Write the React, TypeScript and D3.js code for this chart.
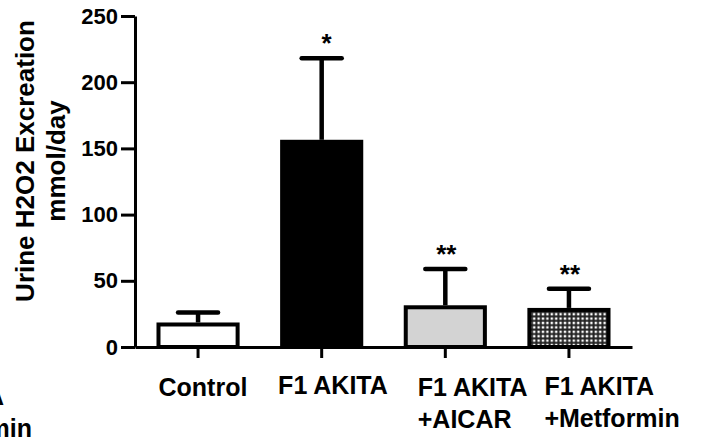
import * as d3 from "d3";
import { useEffect, useRef } from "react";

const categories = ["Control", "F1 AKITA", "F1 AKITA +AICAR", "F1 AKITA +Metformin"];
const labelLines = [["Control"], ["F1 AKITA"], ["F1 AKITA", "+AICAR"], ["F1 AKITA", "+Metformin"]];
const means = [17, 155, 30, 28];
const sems = [9, 63, 29, 16];
const signif = ["", "*", "**", "**"];
const yTicks = [0, 50, 100, 150, 200, 250];

const FONT = "'Liberation Sans', Arial, Helvetica, sans-serif";

export default function App() {
  const ref = useRef<SVGSVGElement>(null);

  useEffect(() => {
    if (!ref.current) return;
    const svg = d3.select(ref.current);
    svg.selectAll("*").remove();

    const width = 709,
      height = 441;
    const margin = { top: 16, right: 77, bottom: 94, left: 135 };

    svg.attr("width", width).attr("height", height);

    const x = d3
      .scaleBand<string>()
      .domain(categories)
      .range([margin.left, width - margin.right])
      .paddingInner(0.36)
      .paddingOuter(0.19);

    const y = d3
      .scaleLinear()
      .domain([0, 250])
      .range([height - margin.bottom, margin.top]);

    const fills = ["#ffffff", "#000000", "#d3d3d3", "url(#checker)"];

    // checker pattern for metformin bar
    const defs = svg.append("defs");
    const pat = defs
      .append("pattern")
      .attr("id", "checker")
      .attr("patternUnits", "userSpaceOnUse")
      .attr("width", 4.4)
      .attr("height", 4.4);
    pat.append("rect").attr("width", 4.4).attr("height", 4.4).attr("fill", "#222");
    pat.append("rect").attr("x", 0.6).attr("y", 0.6).attr("width", 2.4).attr("height", 2.4).attr("fill", "#fff");

    const g = svg.append("g");

    // bars
    g.selectAll("rect.bar")
      .data(categories)
      .enter()
      .append("rect")
      .attr("class", "bar")
      .attr("x", (d) => x(d)!)
      .attr("y", (d, i) => y(means[i]))
      .attr("width", x.bandwidth())
      .attr("height", (d, i) => y(0) - y(means[i]))
      .attr("fill", (d, i) => fills[i])
      .attr("stroke", "#000")
      .attr("stroke-width", 4);

    // error bars (upper only)
    const cx = (d: string) => x(d)! + x.bandwidth() / 2;
    g.selectAll("line.stem")
      .data(categories)
      .enter()
      .append("line")
      .attr("x1", cx)
      .attr("x2", cx)
      .attr("y1", (d, i) => y(means[i]) - 2)
      .attr("y2", (d, i) => y(means[i] + sems[i]))
      .attr("stroke", "#000")
      .attr("stroke-width", 4.5);

    g.selectAll("line.cap")
      .data(categories)
      .enter()
      .append("line")
      .attr("x1", (d) => cx(d) - 20)
      .attr("x2", (d) => cx(d) + 20)
      .attr("y1", (d, i) => y(means[i] + sems[i]))
      .attr("y2", (d, i) => y(means[i] + sems[i]))
      .attr("stroke", "#000")
      .attr("stroke-width", 4.5)
      .attr("stroke-linecap", "round");

    // significance stars
    g.selectAll("text.sig")
      .data(categories)
      .enter()
      .append("text")
      .attr("x", (d, i) => cx(d) + (i === 1 ? 5 : 1))
      .attr("y", (d, i) => y(means[i] + sems[i]) - 6)
      .attr("text-anchor", "middle")
      .attr("font-family", FONT)
      .attr("font-weight", "bold")
      .attr("font-size", "26px")
      .text((d, i) => signif[i]);

    // Y axis
    const yAxis = svg
      .append("g")
      .attr("transform", `translate(${margin.left}, 0)`)
      .call(d3.axisLeft(y).tickValues(yTicks).tickSize(14).tickPadding(3).tickSizeOuter(0));
    yAxis.select(".domain").attr("stroke-width", 3);
    yAxis.selectAll(".tick line").attr("stroke-width", 3);
    yAxis
      .selectAll("text")
      .attr("fill", "#000")
      .attr("font-family", FONT)
      .attr("font-weight", "bold")
      .attr("font-size", "22px");

    // X axis
    const xAxis = svg
      .append("g")
      .attr("transform", `translate(0, ${y(0)})`)
      .call(d3.axisBottom(x).tickSize(11).tickSizeOuter(0).tickFormat(() => ""));
    xAxis.select(".domain").attr("stroke-width", 3);
    xAxis.selectAll(".tick line").attr("stroke-width", 3);

    // category labels (left aligned, multi-line)
    const labelDx = [0, -4, 12, 15];
    const labelY = [396, 394, 396, 395];
    labelLines.forEach((lines, i) => {
      const t = svg
        .append("text")
        .attr("font-family", FONT)
        .attr("font-weight", "bold")
        .attr("font-size", "25px")
        .attr("fill", "#000");
      lines.forEach((line, j) => {
        t.append("tspan")
          .attr("x", x(categories[i])! + labelDx[i])
          .attr("y", labelY[i] + j * 32)
          .text(line);
      });
    });

    // leftover label from neighbouring panel, cut by the left edge
    const ghost = svg
      .append("text")
      .attr("font-family", FONT)
      .attr("font-weight", "bold")
      .attr("font-size", "25px")
      .attr("text-anchor", "end");
    ghost.append("tspan").attr("x", 4).attr("y", 405).text(labelLines[3][0]);
    ghost.append("tspan").attr("x", 32).attr("y", 437).text(labelLines[3][1]);

    // Y title
    const title = svg
      .append("text")
      .attr("transform", `translate(34, 161) rotate(-90)`)
      .attr("text-anchor", "middle")
      .attr("font-family", FONT)
      .attr("font-weight", "bold")
      .attr("font-size", "26px")
      .attr("fill", "#000");
    title.append("tspan").attr("x", 0).attr("y", 0).text("Urine H2O2 Excreation");
    title.append("tspan").attr("x", 0).attr("y", 31).text("mmol/day");
  }, []);

  return <svg ref={ref} style={{ position: "absolute", left: 0, top: 0, background: "#fff" }} />;
}
